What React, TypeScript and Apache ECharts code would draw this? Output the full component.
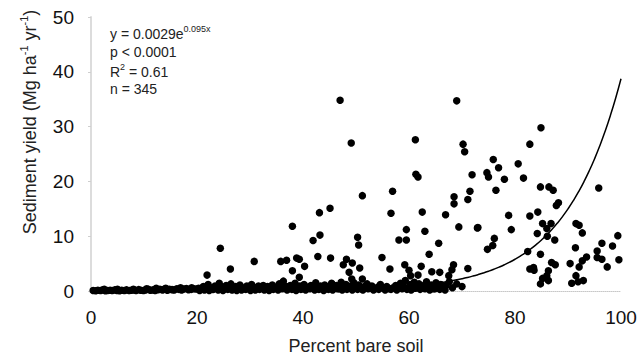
import React, { useEffect, useRef } from "react";
import * as echarts from "echarts";

// Scattered observations [percent bare soil, sediment yield]
const scatterPoints: [number, number][] = [
  [24.4, 7.8], [21.9, 2.9], [26.3, 4.0], [30.8, 5.4], [35.8, 5.4], [36.9, 5.6],
  [38.0, 11.8], [38.8, 6.0], [39.3, 5.8], [38.0, 3.7], [39.3, 2.5], [40.3, 4.5],
  [41.9, 9.2], [43.2, 10.2], [43.1, 14.3], [45.1, 15.1], [42.8, 6.3], [45.2, 6.0],
  [47.0, 34.8], [49.1, 27.0], [69.0, 34.7], [61.2, 27.6], [70.2, 26.8], [70.5, 25.4],
  [71.9, 21.2], [61.3, 21.3], [61.7, 20.8], [56.9, 18.2], [51.2, 17.4], [56.6, 14.2],
  [62.5, 14.4], [68.5, 17.2], [68.5, 15.9], [71.1, 16.7], [71.5, 18.2], [66.9, 13.9],
  [59.5, 11.2], [59.5, 9.3], [58.1, 9.3], [63.0, 10.9], [69.4, 11.7], [72.9, 11.5],
  [50.3, 9.8], [50.5, 8.4], [65.6, 8.7], [63.8, 6.7], [54.9, 6.1], [48.2, 5.8],
  [47.6, 4.8], [49.3, 5.1], [50.7, 4.2], [56.4, 4.0], [48.7, 3.4], [59.2, 4.8],
  [60.0, 3.8], [60.3, 2.8], [62.3, 4.5], [61.7, 2.9], [64.3, 3.5], [65.8, 3.4],
  [68.4, 4.8], [68.1, 3.9], [67.5, 2.8], [71.1, 4.1], [49.2, 2.2], [51.2, 2.2],
  [84.9, 29.8], [82.8, 26.8], [75.9, 24.0], [76.9, 22.5], [80.6, 23.2], [74.7, 21.6],
  [75.0, 20.8], [78.0, 20.4], [81.6, 20.6], [76.4, 18.4], [84.8, 19.0], [86.4, 19.0],
  [87.2, 18.4], [95.8, 18.8], [88.2, 16.1], [87.8, 15.6], [78.8, 13.8], [82.8, 13.7],
  [84.3, 14.4], [73.0, 11.6], [79.3, 11.2], [85.2, 12.3], [86.8, 12.3], [86.0, 11.4],
  [84.2, 10.5], [86.1, 10.0], [87.5, 9.3], [76.1, 9.6], [75.8, 8.3], [74.8, 7.6],
  [91.5, 12.3], [92.1, 12.0], [92.7, 10.6], [99.4, 10.1], [96.4, 8.7], [98.4, 8.2],
  [91.4, 7.9], [82.4, 7.2], [84.8, 6.7], [95.5, 7.3], [95.5, 6.1], [96.4, 5.8],
  [99.6, 5.7], [93.5, 6.2], [92.7, 5.5], [92.1, 4.4], [97.4, 4.4], [90.4, 5.0],
  [86.9, 5.2], [87.6, 4.8], [82.8, 4.0], [83.6, 3.8], [83.5, 4.3], [86.3, 3.7],
  [86.0, 2.8], [85.2, 2.3], [84.8, 1.3], [86.3, 1.9], [91.5, 2.8], [90.7, 1.4],
  [91.9, 1.7], [92.9, 1.9],
];

// Near-zero observations, 0-20 % bare soil
const bandLow: [number, number][] = [
  [0.4, 0.1], [0.9, 0.05], [1.3, 0.15], [1.8, 0.1], [2.2, 0.2], [2.7, 0.05], [3.1, 0.1],
  [3.6, 0.15], [4.0, 0.1], [4.5, 0.2], [4.9, 0.1], [5.4, 0.05], [5.8, 0.15], [6.3, 0.1],
  [6.7, 0.2], [7.2, 0.1], [7.6, 0.15], [8.1, 0.2], [8.5, 0.1], [9.0, 0.25], [9.4, 0.15],
  [9.9, 0.1], [10.3, 0.2], [10.8, 0.3], [11.2, 0.15], [11.7, 0.2], [12.1, 0.1], [12.6, 0.25],
  [13.0, 0.3], [13.5, 0.2], [13.9, 0.35], [14.4, 0.15], [14.8, 0.3], [15.3, 0.25],
  [15.7, 0.2], [16.2, 0.4], [16.6, 0.3], [17.1, 0.2], [17.5, 0.35], [18.0, 0.45],
  [18.4, 0.25], [18.9, 0.3], [19.3, 0.4], [19.8, 0.35],
];

// Near-zero observations, 20-45 % bare soil
const bandMid: [number, number][] = [
  [20.3, 0.5], [20.8, 0.3], [21.2, 0.8], [21.6, 0.4], [22.1, 1.2], [22.5, 0.6], [22.9, 0.3],
  [23.4, 0.9], [23.8, 0.5], [24.2, 1.4], [24.7, 0.7], [25.1, 0.4], [25.5, 1.0], [26.0, 0.6],
  [26.4, 1.3], [26.8, 0.3], [27.3, 0.8], [27.7, 0.5], [28.1, 1.1], [28.6, 0.6], [29.0, 0.4],
  [29.4, 0.9], [29.9, 0.5], [30.3, 1.2], [30.7, 0.7], [31.2, 0.4], [31.6, 0.9], [32.0, 0.6],
  [32.5, 1.0], [32.9, 0.5], [33.3, 0.8], [33.8, 0.4], [34.2, 1.1], [34.6, 0.7], [35.1, 0.5],
  [35.5, 1.3], [35.9, 0.6], [36.3, 1.8], [36.8, 0.8], [37.2, 0.4], [37.6, 1.0], [38.1, 0.6],
  [38.5, 1.4], [38.9, 0.5], [39.4, 0.9], [39.8, 0.4], [40.2, 1.2], [40.7, 0.7], [41.1, 0.5],
  [41.5, 1.0], [42.0, 0.6], [42.4, 1.5], [42.8, 0.4], [43.3, 0.9], [43.7, 0.6], [44.1, 1.1],
  [44.6, 0.5],
];

// Near-zero observations, 45-70 % bare soil
const bandHigh: [number, number][] = [
  [45.0, 0.8], [45.4, 1.4], [45.9, 0.5], [46.3, 1.0], [46.8, 0.4], [47.2, 1.6], [47.6, 0.7],
  [48.1, 1.2], [48.5, 0.5], [49.0, 0.9], [49.6, 1.5], [50.1, 0.6], [50.5, 1.1], [51.0, 0.4],
  [51.6, 0.8], [52.1, 1.3], [52.5, 0.5], [53.0, 0.9], [53.6, 0.4], [54.1, 0.7], [54.6, 1.2],
  [55.2, 0.5], [55.8, 0.8], [56.3, 0.4], [57.0, 0.6], [57.5, 1.0], [58.0, 0.5], [58.4, 1.4],
  [58.9, 0.8], [59.3, 1.9], [59.8, 0.6], [60.2, 1.2], [60.6, 0.4], [61.0, 1.6], [61.5, 0.8],
  [61.9, 1.3], [62.4, 0.5], [62.8, 1.0], [63.3, 1.7], [63.7, 0.6], [64.2, 1.1], [64.6, 0.4],
  [65.1, 1.5], [65.5, 0.8], [66.0, 1.2], [66.5, 0.5], [67.0, 1.0], [67.6, 1.7], [68.2, 0.6],
  [69.0, 1.3], [70.0, 0.8],
];

// Additional overlapping near-zero observations
const bandBase: [number, number][] = [
  [20.5, 0.1], [21.4, 0.2], [22.3, 0.1], [23.1, 0.3], [24.0, 0.2], [24.9, 0.1], [25.8, 0.3],
  [26.6, 0.2], [27.5, 0.1], [28.4, 0.2], [29.2, 0.3], [30.1, 0.1], [31.0, 0.2], [31.8, 0.3],
  [32.7, 0.2], [33.6, 0.1], [34.4, 0.3], [35.3, 0.2], [36.1, 0.4], [37.0, 0.2], [37.9, 0.3],
  [38.7, 0.1], [39.6, 0.3], [40.5, 0.2], [41.3, 0.4], [42.2, 0.2], [43.0, 0.3], [43.9, 0.1],
  [44.8, 0.3], [45.6, 0.2], [46.5, 0.4], [47.4, 0.2], [48.3, 0.3], [49.3, 0.2], [50.3, 0.3],
  [51.3, 0.2], [52.3, 0.4], [53.3, 0.2], [54.3, 0.3], [55.5, 0.2], [56.6, 0.3], [57.7, 0.2],
  [58.7, 0.4], [59.6, 0.3], [60.4, 0.2], [61.2, 0.5], [62.1, 0.3], [63.0, 0.4], [63.9, 0.2],
  [64.9, 0.4], [65.8, 0.3], [66.8, 0.2], [14.1, 0.5], [16.9, 0.6], [19.0, 0.6], [10.5, 0.4],
  [12.3, 0.5], [8.0, 0.3], [5.0, 0.3], [2.5, 0.3],
];

// Fitted model printed on the chart: y = a * e^(b x)
const fitA = 0.0029;
const fitB = 0.095;
const fitXs: number[] = Array.from({ length: 101 }, (_, i) => i);

const xTicks = [0, 20, 40, 60, 80, 100];
const yTicks = [0, 10, 20, 30, 40, 50];

const FONT = "'Liberation Sans', Arial, sans-serif";

export default function App() {
  const ref = useRef<HTMLDivElement>(null);
  useEffect(() => {
    if (!ref.current) return;
    const chart = echarts.init(ref.current, undefined, { renderer: "svg" });
    const allPoints = [...bandLow, ...bandMid, ...bandBase, ...bandHigh, ...scatterPoints];
    const fitLine = fitXs.map((x) => [x, fitA * Math.exp(fitB * x)]);
    const sup = { fontSize: 9, fontFamily: FONT, color: "#222", padding: [0, 0, 10, 0] };
    const supAxis = { fontSize: 11, fontFamily: FONT, color: "#222", padding: [0, 0, 12, 0] };
    chart.setOption({
      animation: false,
      backgroundColor: "#fff",
      grid: { left: 91, right: 19, top: 17, bottom: 68, containLabel: false },
      xAxis: {
        type: "value",
        min: xTicks[0],
        max: xTicks[xTicks.length - 1],
        interval: 20,
        name: "Percent bare soil",
        nameLocation: "middle",
        nameGap: 46,
        nameTextStyle: { fontSize: 18, fontFamily: FONT, color: "#222" },
        axisLine: { show: true, lineStyle: { color: "#c8c8c8", type: "dotted", width: 1 } },
        axisTick: { show: false },
        axisLabel: { fontSize: 19, fontFamily: FONT, color: "#111", margin: 17 },
        splitLine: { show: false },
      },
      yAxis: {
        type: "value",
        min: yTicks[0],
        max: yTicks[yTicks.length - 1],
        interval: 10,
        axisLine: { show: true, onZero: false, lineStyle: { color: "#dcdcdc", width: 2 } },
        axisTick: { show: true, length: 3, lineStyle: { color: "#cfcfcf" } },
        axisLabel: { fontSize: 19, fontFamily: FONT, color: "#111", margin: 17 },
        splitLine: { show: false },
      },
      graphic: [
        {
          type: "text",
          x: 30,
          y: 122,
          rotation: Math.PI / 2,
          style: {
            text: "Sediment yield (Mg ha{s|-1} yr{s|-1})",
            fontSize: 18,
            fontFamily: FONT,
            fill: "#222",
            textAlign: "center",
            textVerticalAlign: "middle",
            rich: { s: supAxis },
          },
        },
        {
          type: "text",
          left: 110,
          top: 24,
          style: {
            text: "y = 0.0029e{s|0.095x}",
            fontSize: 14,
            fontFamily: FONT,
            fill: "#222",
            rich: { s: sup },
          },
        },
        {
          type: "text",
          left: 110,
          top: 45,
          style: { text: "p < 0.0001", fontSize: 14, fontFamily: FONT, fill: "#222" },
        },
        {
          type: "text",
          left: 110,
          top: 62,
          style: {
            text: "R{s|2} = 0.61",
            fontSize: 14,
            fontFamily: FONT,
            fill: "#222",
            rich: { s: sup },
          },
        },
        {
          type: "text",
          left: 110,
          top: 82,
          style: { text: "n = 345", fontSize: 14, fontFamily: FONT, fill: "#222" },
        },
      ],
      series: [
        {
          type: "scatter",
          data: allPoints,
          symbolSize: 7.5,
          itemStyle: { color: "#000", opacity: 1 },
          z: 2,
        },
        {
          type: "line",
          data: fitLine,
          showSymbol: false,
          smooth: true,
          lineStyle: { color: "#000", width: 1.5 },
          z: 3,
        },
      ],
    });
    return () => chart.dispose();
  }, []);
  return (
    <div
      ref={ref}
      style={{ position: "absolute", left: 0, top: 0, width: 640, height: 360 }}
    />
  );
}
